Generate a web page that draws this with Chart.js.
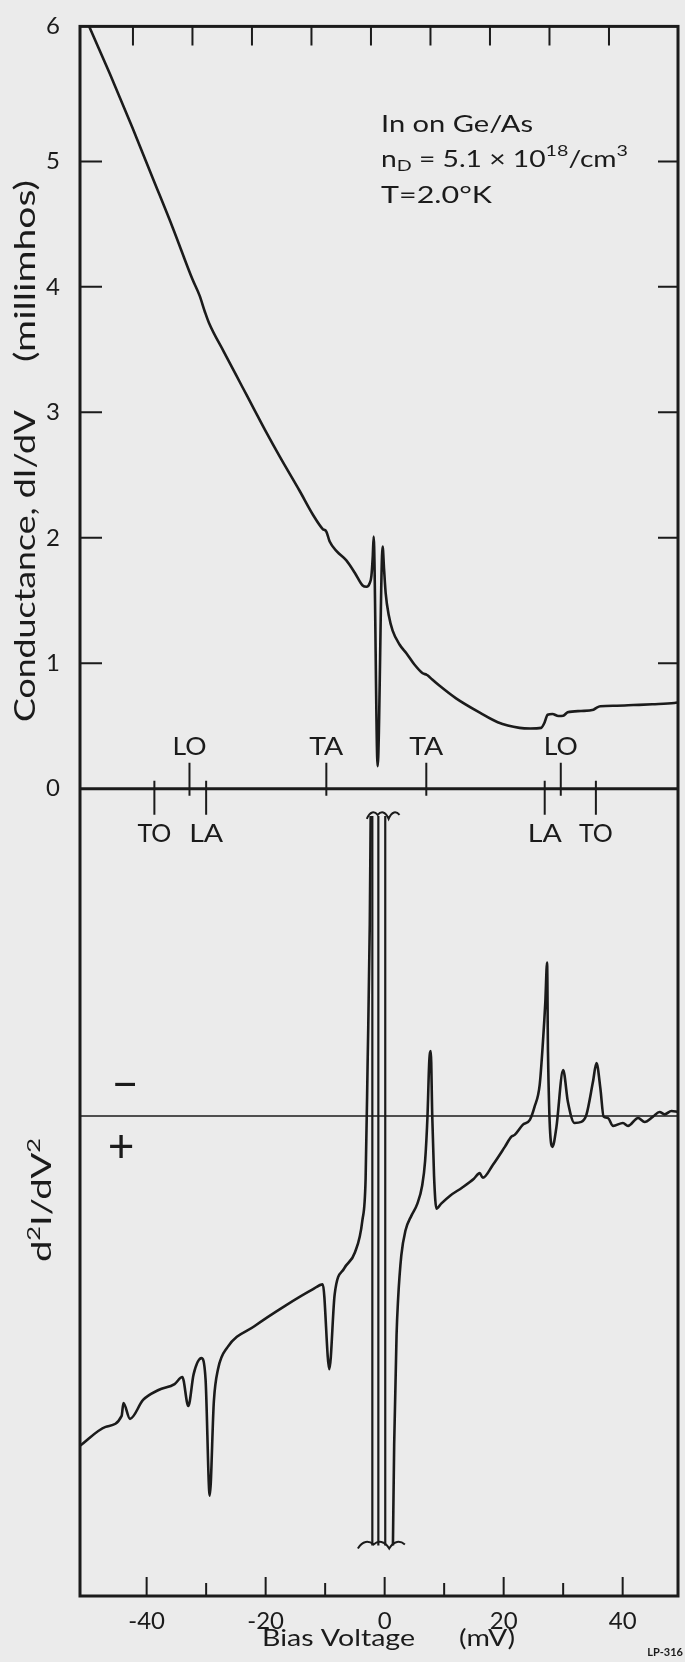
<!DOCTYPE html>
<html>
<head>
<meta charset="utf-8">
<title>Conductance and d2I/dV2 vs bias</title>
<script src="https://cdn.jsdelivr.net/npm/chart.js@4.4.1/dist/chart.umd.min.js"></script>
<style>
  html, body { margin: 0; padding: 0; background: #ebebeb; }
  #wrap { width: 685px; height: 1662px; }
</style>
</head>
<body>
<div id="wrap"><canvas id="chart" width="685" height="1662"></canvas></div>
<script>
// upper trace: conductance dI/dV (millimhos) vs bias (mV)
const biasTop = [-50.5, -49.6, -46.2, -42.4, -39.0, -35.6, -32.3, -31.1, -30.2, -29.5, -27, -24, -22, -20, -17.6,
  -14.3, -12, -10.4, -9.8, -9.24, -8, -6.44, -5, -3.7, -3.03, -2.5, -2.24, -2.0, -1.85, -1.18, -0.34, -0.1, 0.17,
  0.7, 1.34, 2.5, 3.65, 5, 6.39, 7.0, 7.2, 8.0, 9.24, 12, 16.07, 19, 22.67, 24.5, 26.3, 26.8, 27.4, 28.2, 29.2,
  30.0, 30.75, 33, 35.1, 35.6, 36.25, 39, 41.8, 45, 48.7, 49.5];
const conductance = [6.17, 6.07, 5.70, 5.27, 4.87, 4.47, 4.06, 3.93, 3.80, 3.71, 3.48, 3.21, 3.03, 2.85, 2.645,
  2.375, 2.18, 2.07, 2.05, 1.97, 1.89, 1.82, 1.72, 1.62, 1.61, 1.64, 1.69, 1.85, 2.01, 0.18, 1.93, 1.75, 1.56,
  1.38, 1.26, 1.15, 1.08, 0.99, 0.92, 0.91, 0.905, 0.87, 0.82, 0.72, 0.604, 0.53, 0.485, 0.48, 0.485, 0.52, 0.59, 0.596, 0.58,
  0.582, 0.609, 0.62, 0.63, 0.645, 0.657, 0.662, 0.667, 0.673, 0.683, 0.69];

// lower trace: d2I/dV2 (arbitrary units, "+" is downward)
const biasD2Left = [-51.2, -46.9, -44.2, -43.9, -42.8, -40.6, -38.0, -35.3, -34.0, -33.0, -32.1, -30.8, -30.1, -29.4,
  -28.7, -28.0, -26.4, -21.9, -16.6, -12.1, -10.4, -9.3, -8.4, -6.8, -5.0, -3.75, -3.2, -2.86, -2.5, -2.35];
const d2Left = [-33.1, -31.2, -30.1, -28.8, -30.4, -28.5, -27.5, -26.9, -26.2, -29.1, -25.9, -24.3, -26.4, -38.1,
  -28.6, -25.4, -23.2, -21.1, -19.0, -17.4, -16.9, -25.4, -17.9, -15.3, -13.7, -10.5, -6.3, 5.4, 19.2, 30.1];
// pen swings off scale around zero bias (null = pen lifted)
const spikeBias = [-2.07, -2.07, -2.07, -1.06, -1.06, -1.06, 0.1, 0.1];
const spikeD2 = [30.1, -43.1, null, -43.1, 30.1, null, 30.1, -43.1];
const biasD2Right = [1.39, 1.6, 2.0, 2.24, 2.8, 3.5, 4.5, 5.5, 6.3, 6.8, 7.2, 7.5, 7.75, 8.0, 8.3, 8.7, 9.5, 11, 13, 15,
  15.97, 16.5, 18.2, 20.2, 21.3, 21.85, 23.2, 24.4, 25.2, 26.05, 26.6, 27.0, 27.3, 27.45, 28.2, 28.85, 30.0, 30.8,
  31.9, 33.06, 33.9, 35.0, 35.6, 36.25, 36.8, 37.5, 38.4, 40.05, 40.9, 42.6, 43.7, 45.1, 46.2, 47.06, 48.2, 49.3];
const d2Right = [-43.1, -33, -22, -18.6, -14, -11.5, -10, -8.8, -7, -4.5, 0, 5.5, 6.5, 0, -6, -9.3, -8.8, -8, -7.2, -6.3,
  -5.74, -6.2, -4.9, -3.1, -2.07, -1.9, -0.9, -0.4, 0.93, 3.1, 7.4, 11.4, 15.4, 6.4, -3.1, -1.2, 4.6, 1.4,
  -0.7, -0.6, 0.1, 3.4, 5.3, 2.8, -0.07, -0.2, -1.0, -0.7, -1.0, -0.2, -0.6, -0.07, 0.4, 0.16, 0.5, 0.4];

const xTickLabels = [-40, -20, 0, 20, 40];
const xMinorTicks = [-30, -10, 10, 30];
const topTickBias = [-42.3, -32.3, -22.3, -12.3, -2.3, 7.7, 17.7, 27.7, 37.7];
const yTickValues = [0, 1, 2, 3, 4, 5];
const phononAbove = ['LO', 'TA', 'TA', 'LO'];
const phononAboveBias = [-32.8, -9.8, 7.0, 29.6];
const phononBelow = ['TO', 'LA', 'LA', 'TO'];
const phononBelowBias = [-38.7, -30.0, 26.9, 35.5];

const X_MIN = -51.2, X_MAX = 49.3;
const YC_MIN = -6.434, YC_MAX = 6.076;   // conductance range spread over the whole frame
const YD_MIN = -48.17, YD_MAX = 109.33;  // d2 units over the whole frame
const BREAK_TOP = 30.1, BREAK_BOTTOM = -43.1;

const ink = '#1b1b1b';
const FONT = 'Lato, "DejaVu Sans", sans-serif';

function pts(xs, ys) {
  return xs.map((x, i) => ({x: x, y: ys[i]}));
}

// draws text segments [text, size, dy] stretched sideways to a given width (lettering is wide)
function wide(ctx, segs, x, y, width) {
  let natural = 0;
  segs.forEach(s => { ctx.font = s[1] + 'px ' + FONT; natural += ctx.measureText(s[0]).width; });
  ctx.save();
  ctx.translate(x, y);
  ctx.scale(width / natural, 1);
  ctx.textAlign = 'left';
  let cx = 0;
  segs.forEach(s => {
    ctx.font = s[1] + 'px ' + FONT;
    ctx.fillText(s[0], cx, s[2]);
    cx += ctx.measureText(s[0]).width;
  });
  ctx.restore();
}

const decor = {
  id: 'decor',
  beforeDraw(chart) {
    const ctx = chart.ctx;
    ctx.save();
    ctx.fillStyle = '#ebebeb';
    ctx.fillRect(0, 0, chart.width, chart.height);
    ctx.restore();
  },
  afterDatasetsDraw(chart) {
    const ctx = chart.ctx, a = chart.chartArea;
    const xs = chart.scales.x, yc = chart.scales.yc, yd = chart.scales.yd;
    ctx.save();
    ctx.strokeStyle = ink;
    ctx.fillStyle = ink;

    // frame
    ctx.lineWidth = 3;
    ctx.strokeRect(a.left, a.top, a.right - a.left, a.bottom - a.top);

    // inward ticks
    ctx.lineWidth = 2;
    ctx.beginPath();
    xTickLabels.forEach(v => { const px = xs.getPixelForValue(v); ctx.moveTo(px, a.bottom); ctx.lineTo(px, a.bottom - 19); });
    xMinorTicks.forEach(v => { const px = xs.getPixelForValue(v); ctx.moveTo(px, a.bottom); ctx.lineTo(px, a.bottom - 13); });
    topTickBias.forEach(v => { const px = xs.getPixelForValue(v); ctx.moveTo(px, a.top); ctx.lineTo(px, a.top + 19); });
    yTickValues.slice(1).forEach(v => {
      const py = yc.getPixelForValue(v);
      ctx.moveTo(a.left, py); ctx.lineTo(a.left + 22, py);
      ctx.moveTo(a.right, py); ctx.lineTo(a.right - 20, py);
    });
    // phonon markers on the zero line
    const y0 = yc.getPixelForValue(0);
    phononAboveBias.forEach(v => { const px = xs.getPixelForValue(v); ctx.moveTo(px, y0 - 26); ctx.lineTo(px, y0 + 7); });
    phononBelowBias.forEach(v => { const px = xs.getPixelForValue(v); ctx.moveTo(px, y0 - 8); ctx.lineTo(px, y0 + 26); });
    ctx.stroke();

    ctx.textBaseline = 'middle';
    phononAbove.forEach((t, i) => wide(ctx, [[t, 25, 0]], xs.getPixelForValue(phononAboveBias[i]) - 17, y0 - 42, 34));
    phononBelow.forEach((t, i) => wide(ctx, [[t, 25, 0]], xs.getPixelForValue(phononBelowBias[i]) - 17, y0 + 45, 34));

    // break marks where the d2 pen went off scale
    ctx.lineWidth = 2;
    const wave = (x1, x2, y) => {
      const w = (x2 - x1) / 3;
      ctx.beginPath();
      ctx.moveTo(x1, y + 3);
      for (let k = 0; k < 3; k++) {
        const s = x1 + k * w;
        ctx.bezierCurveTo(s + w * 0.3, y - 5, s + w * 0.7, y - 5, s + w, y + (k % 2 ? 3 : -1));
      }
      ctx.stroke();
    };
    wave(xs.getPixelForValue(-3.0), xs.getPixelForValue(2.5), yd.getPixelForValue(BREAK_TOP));
    wave(xs.getPixelForValue(-4.5), xs.getPixelForValue(3.4), yd.getPixelForValue(BREAK_BOTTOM));

    // sample annotation
    wide(ctx, [['In on Ge/As', 23, 0]], 381, 125, 152);
    wide(ctx, [['n', 23, 0], ['D', 16, 6], [' = 5.1 \u00d7 10', 23, 0], ['18', 16, -9], ['/cm', 23, 0], ['3', 16, -9]], 381, 160, 247);
    wide(ctx, [['T=2.0\u00b0K', 23, 0]], 381, 196, 111);

    // sign of d2I/dV2
    ctx.font = '46px ' + FONT;
    ctx.textAlign = 'center';
    ctx.fillText('\u2212', 125, yd.getPixelForValue(2.8) - 3);
    ctx.fillText('+', 121, yd.getPixelForValue(-3.4) - 3);

    // x axis title
    wide(ctx, [['Bias Voltage', 24, 0]], 262, 1638, 153);
    wide(ctx, [['(mV)', 24, 0]], 459, 1638, 56);

    // rotated axis labels
    ctx.textBaseline = 'alphabetic';
    ctx.save();
    ctx.translate(35, 0);
    ctx.rotate(-Math.PI / 2);
    wide(ctx, [['Conductance, dI/dV', 28, 0]], -722, 0, 312);
    wide(ctx, [['(millimhos)', 28, 0]], -362, 0, 182);
    ctx.restore();

    ctx.save();
    ctx.translate(51, 0);
    ctx.rotate(-Math.PI / 2);
    wide(ctx, [['d', 27, 0], ['2', 18, -11], ['I/dV', 27, 0], ['2', 18, -11]], -1262, 0, 124);
    ctx.restore();

    // plate number
    ctx.font = 'bold 11px ' + FONT;
    ctx.textAlign = 'right';
    ctx.textBaseline = 'middle';
    ctx.fillText('LP-316', 683, 1652);
    ctx.restore();
  }
};

const lineStyle = { borderColor: ink, borderWidth: 2.6, pointRadius: 0 };

new Chart(document.getElementById('chart'), {
  type: 'line',
  data: {
    datasets: [
      Object.assign({ label: 'dI/dV', data: pts(biasTop, conductance), yAxisID: 'yc', cubicInterpolationMode: 'monotone' }, lineStyle),
      Object.assign({ label: 'd2I/dV2 (V<0)', data: pts(biasD2Left, d2Left), yAxisID: 'yd', cubicInterpolationMode: 'monotone' }, lineStyle),
      Object.assign({ label: 'd2I/dV2 off scale', data: pts(spikeBias, spikeD2), yAxisID: 'yd', tension: 0, spanGaps: false }, lineStyle, { borderWidth: 2.2 }),
      Object.assign({ label: 'd2I/dV2 (V>0)', data: pts(biasD2Right, d2Right), yAxisID: 'yd', cubicInterpolationMode: 'monotone' }, lineStyle),
      Object.assign({ label: 'zero', data: pts([X_MIN, X_MAX], [0, 0]), yAxisID: 'yc' }, lineStyle, { borderWidth: 3 }),
      Object.assign({ label: 'sign', data: pts([X_MIN, X_MAX], [0, 0]), yAxisID: 'yd' }, lineStyle, { borderWidth: 1.6 })
    ]
  },
  options: {
    responsive: false,
    animation: false,
    events: [],
    layout: { padding: { left: 0, right: 7, top: 21, bottom: 0 } },
    plugins: { legend: { display: false }, tooltip: { enabled: false } },
    scales: {
      x: {
        type: 'linear',
        min: X_MIN,
        max: X_MAX,
        afterBuildTicks: s => { s.ticks = xTickLabels.map(v => ({value: v})); },
        afterFit: s => { s.height = 66; },
        grid: { display: false },
        border: { display: false },
        ticks: { color: ink, padding: 3, font: { family: FONT, size: 24 } }
      },
      yc: {
        type: 'linear',
        position: 'left',
        min: YC_MIN,
        max: YC_MAX,
        afterBuildTicks: s => { s.ticks = yTickValues.concat([YC_MAX]).map(v => ({value: v})); },
        afterFit: s => { s.width = 80; },
        grid: { display: false },
        border: { display: false },
        ticks: {
          color: ink,
          padding: 12,
          font: { family: FONT, size: 24 },
          callback: v => (v > 5.5 ? '6' : String(v))
        }
      },
      yd: {
        type: 'linear',
        position: 'left',
        display: false,
        min: YD_MIN,
        max: YD_MAX
      }
    }
  },
  plugins: [decor]
});
</script>
</body>
</html>
